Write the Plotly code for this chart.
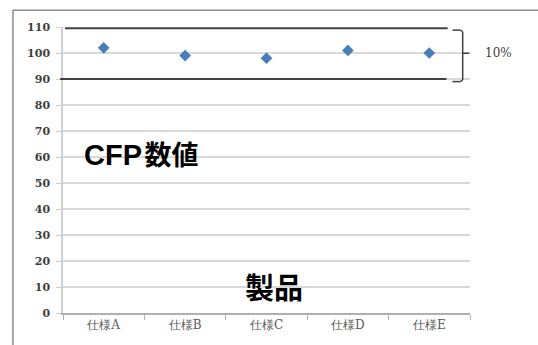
import plotly.graph_objects as go

categories = ["仕様A", "仕様B", "仕様C", "仕様D", "仕様E"]
cfp_values = [102, 99, 98, 101, 100]
y_ticks = [0, 10, 20, 30, 40, 50, 60, 70, 80, 90, 100, 110]
band_limits = [90, 109.5]
bracket_values = [89.0, 99.9, 108.8]
bracket_label = "10%"
y_title = "<span style='font-family:Liberation Sans;font-size:29px'>CFP\u200a</span>数値"
x_title = "製品"

serif = "DejaVu Serif"
sans = "Noto Sans CJK JP"

fig = go.Figure()
fig.add_trace(go.Scatter(
    x=categories, y=cfp_values, mode="markers",
    marker=dict(symbol="diamond", size=9, color="#4a7ebb"),
    showlegend=False, hoverinfo="skip",
))

shapes = []
# outer frame
shapes.append(dict(type="path", xref="paper", yref="paper",
                   path="M -0.123,-0.2 L -0.123,1.059 L 1.2,1.059",
                   line=dict(color="#8c8c8c", width=1.5)))
# band lines
shapes.append(dict(type="line", xref="paper", yref="y", x0=0.005, x1=0.945,
                   y0=band_limits[1], y1=band_limits[1],
                   line=dict(color="#404040", width=2)))
shapes.append(dict(type="line", xref="paper", yref="y", x0=-0.007, x1=0.942,
                   y0=band_limits[0], y1=band_limits[0],
                   line=dict(color="#404040", width=2)))
# bracket
bx0, bx1, bx2 = 0.957, 0.982, 0.998
b_lo, b_mid, b_hi = bracket_values
lc = dict(color="#404040", width=1.5)
shapes.append(dict(type="line", xref="paper", yref="y", x0=bx0, x1=bx1 - 0.006,
                   y0=b_hi, y1=b_hi, line=lc))
shapes.append(dict(type="line", xref="paper", yref="y", x0=bx0, x1=bx1 - 0.006,
                   y0=b_lo, y1=b_lo, line=lc))
shapes.append(dict(type="line", xref="paper", yref="y", x0=bx1, x1=bx1,
                   y0=b_lo + 0.6, y1=b_hi - 0.6, line=lc))
shapes.append(dict(type="line", xref="paper", yref="y", x0=bx1 - 0.006, x1=bx1,
                   y0=b_hi, y1=b_hi - 0.6, line=lc))
shapes.append(dict(type="line", xref="paper", yref="y", x0=bx1 - 0.006, x1=bx1,
                   y0=b_lo, y1=b_lo + 0.6, line=lc))
shapes.append(dict(type="line", xref="paper", yref="y", x0=bx1, x1=bx2,
                   y0=b_mid, y1=b_mid, line=lc))

annotations = [
    dict(text=bracket_label, xref="paper", yref="y", x=1.032, y=b_mid,
         xanchor="left", yanchor="middle", showarrow=False,
         font=dict(family=serif, size=12, color="#404040")),
    dict(text=y_title, xref="paper", yref="paper", x=0.046, y=0.558,
         xanchor="left", yanchor="middle", showarrow=False,
         font=dict(family=sans, size=27, color="#000000", weight="bold")),
    dict(text=x_title, xref="paper", yref="paper", x=0.518, y=0.094,
         xanchor="center", yanchor="middle", showarrow=False,
         font=dict(family=sans, size=29, color="#000000", weight="bold")),
]

fig.update_layout(
    width=538, height=345,
    margin=dict(l=63, r=68, t=27, b=32),
    paper_bgcolor="white", plot_bgcolor="white",
    shapes=shapes, annotations=annotations,
    xaxis=dict(
        type="category", range=[-0.5, 4.5], tickson="boundaries",
        ticks="outside", ticklen=5, tickcolor="#b0b0b0",
        showline=True, linecolor="#b0b0b0", linewidth=1.5,
        showgrid=False, zeroline=False,
        tickfont=dict(family=serif, size=12, color="#595959"),
    ),
    yaxis=dict(
        range=[0, 110], tickvals=y_ticks, ticks="outside", ticklen=5,
        tickcolor="#d0d0d0", showline=True, linecolor="#d0d0d0", linewidth=1.5,
        showgrid=True, gridcolor="#d9d9d9", gridwidth=1.5, zeroline=False,
        tickfont=dict(family=serif, size=11, color="#404040", weight="bold"),
        ticklabelstandoff=4,
    ),
)

fig.write_html("out.html")
